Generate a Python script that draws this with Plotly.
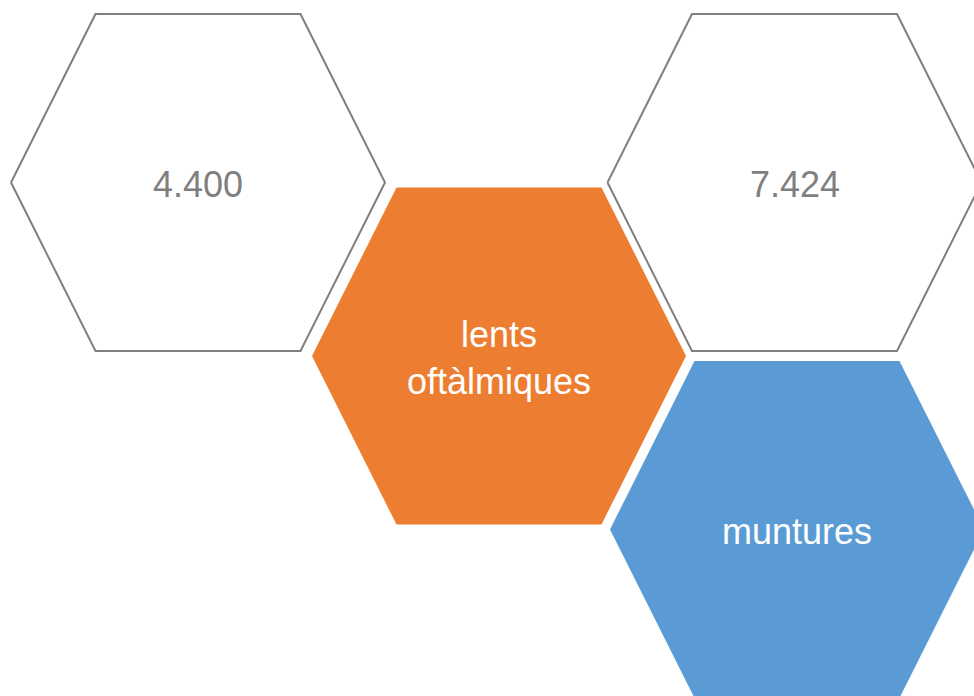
import plotly.graph_objects as go

# Data
labels = ["4.400", "lents<br>oftàlmiques", "7.424", "muntures"]
kinds = ["value", "category", "value", "category"]

# Layout / style (kept separate from data)
centers = [(198, 182.5), (499, 356), (794.5, 182.5), (797, 529.5)]
fills = [None, "#ED7D31", None, "#5B9BD5"]
text_colors = ["#7F7F7F", "#FFFFFF", "#7F7F7F", "#FFFFFF"]
HALF_W = 187
HALF_H = 168.5
TOP_HALF = 102.5

W, H = 974, 696

fig = go.Figure()

def hexagon(cx, cy):
    xs = [cx - HALF_W, cx - TOP_HALF, cx + TOP_HALF, cx + HALF_W, cx + TOP_HALF, cx - TOP_HALF, cx - HALF_W]
    ys = [cy, cy - HALF_H, cy - HALF_H, cy, cy + HALF_H, cy + HALF_H, cy]
    return xs, ys

for (cx, cy), fillc, kind in zip(centers, fills, kinds):
    xs, ys = hexagon(cx, cy)
    if fillc is None:
        fig.add_trace(go.Scatter(x=xs, y=ys, mode="lines", fill="toself",
                                 fillcolor="#FFFFFF",
                                 line=dict(color="#7F7F7F", width=2),
                                 hoverinfo="skip", showlegend=False))
    else:
        fig.add_trace(go.Scatter(x=xs, y=ys, mode="lines", fill="toself",
                                 fillcolor=fillc,
                                 line=dict(color=fillc, width=0),
                                 hoverinfo="skip", showlegend=False))

for (cx, cy), lab, tc in zip(centers, labels, text_colors):
    fig.add_annotation(x=cx, y=cy, text=lab, showarrow=False,
                       xanchor="center", yanchor="middle", yshift=-2,
                       font=dict(family="Liberation Sans, Arial, sans-serif", size=36, color=tc))

fig.update_layout(
    width=W, height=H,
    margin=dict(l=0, r=0, t=0, b=0),
    paper_bgcolor="#FFFFFF", plot_bgcolor="#FFFFFF",
    xaxis=dict(range=[0, W], visible=False, fixedrange=True),
    yaxis=dict(range=[H, 0], visible=False, fixedrange=True),
)

fig.write_html("out.html", config={"displayModeBar": False},
               post_script="document.body.style.margin='0';document.body.style.overflow='hidden';")
